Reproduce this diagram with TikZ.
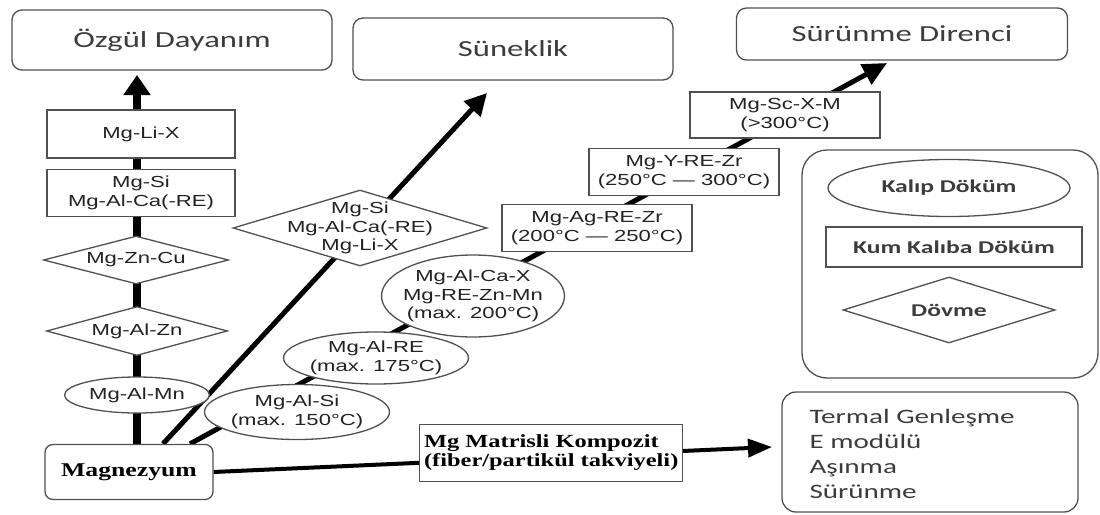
\documentclass[tikz,border=0pt]{standalone}
\usepackage{fontspec}
\setmainfont{Carlito}[FakeStretch=1.42]
\newfontfamily\alloyfont{Liberation Sans}[FakeStretch=1.38]
\newfontfamily\serfont{Liberation Serif}[FakeStretch=1.32]
\usetikzlibrary{shapes.geometric,arrows.meta}
\pgfdeclarelayer{bg}
\pgfsetlayers{bg,main}
\definecolor{bord}{HTML}{505050}
\definecolor{hdrtext}{HTML}{3C3C3C}
\definecolor{alloytext}{HTML}{222222}
\begin{document}
\begin{tikzpicture}[x=1pt,y=-1pt,
  box/.style={draw=bord, line width=1.3pt, fill=white, inner sep=0pt},
  hdr/.style={box, rounded corners=10pt, font=\fontsize{23}{27}\selectfont, text=hdrtext},
  abox/.style={box, font=\alloyfont\fontsize{16}{18.5}\selectfont, align=center, text=alloytext},
  atext/.style={font=\alloyfont\fontsize{16}{18.5}\selectfont, align=center, inner sep=0pt, text=alloytext},
  ptext/.style={font=\bfseries\fontsize{18}{21}\selectfont, text=hdrtext, inner sep=0pt},
  conn/.style={line width=5pt, black},
]
\useasboundingbox (0,0) rectangle (1100,514);

% headers
\node[hdr, minimum width=320pt, minimum height=60pt] (hoz) at (172,40) {Özgül Dayanım};
\node[hdr, minimum width=320pt, minimum height=62pt] (hsu) at (513,49) {Süneklik};
\node[hdr, minimum width=331pt, minimum height=52pt] (hsd) at (902,34) {Sürünme Direnci};

% left column
\node[abox, minimum width=188pt, minimum height=48pt] (lix) at (141,134) {Mg-Li-X};
\node[abox, minimum width=188pt, minimum height=47pt] (sica) at (141,193) {Mg-Si\\Mg-Al-Ca(-RE)};
\node[box, diamond, minimum width=185pt, minimum height=48pt] (zncu) at (136,260) {};
\node[atext] (zncut) at (zncu) {Mg-Zn-Cu};
\node[box, diamond, minimum width=181pt, minimum height=49pt] (alzn) at (137,331) {};
\node[atext] (alznt) at (alzn) {Mg-Al-Zn};
\node[box, ellipse, minimum width=145pt, minimum height=36pt] (almn) at (137,395) {};
\node[atext] (almnt) at (almn) {Mg-Al-Mn};

\node[box, rounded corners=8pt, minimum width=168pt, minimum height=55pt,
      font=\serfont\bfseries\fontsize{19.5}{22}\selectfont, text=black] (mag) at (129,472) {Magnezyum};

% ductility diamond
\node[box, diamond, minimum width=254pt, minimum height=76pt] (dsi) at (360,228) {};
\node[atext] (dsit) at (dsi) {Mg-Si\\Mg-Al-Ca(-RE)\\Mg-Li-X};

% creep chain
\node[box, ellipse, minimum width=185pt, minimum height=55pt] (alsi) at (297,412) {};
\node[atext] (alsit) at (alsi) {Mg-Al-Si\\(max. 150°C)};
\node[box, ellipse, minimum width=185pt, minimum height=52pt] (alre) at (376,358) {};
\node[atext] (alret) at (alre) {Mg-Al-RE\\(max. 175°C)};
\node[box, ellipse, minimum width=183pt, minimum height=82pt] (alca) at (473,296) {};
\node[atext] (alcat) at (alca) {Mg-Al-Ca-X\\Mg-RE-Zn-Mn\\(max. 200°C)};
\node[abox, minimum width=190pt, minimum height=47pt] (agre) at (597,228) {Mg-Ag-RE-Zr\\(200°C — 250°C)};
\node[abox, minimum width=190pt, minimum height=47pt] (yre) at (684,172) {Mg-Y-RE-Zr\\(250°C — 300°C)};
\node[abox, minimum width=190pt, minimum height=46pt] (scx) at (785,115) {Mg-Sc-X-M\\(>300°C)};

% composite
\node[box, minimum width=263pt, minimum height=57pt] (comp) at (551,453) {};
\node[font=\serfont\bfseries\fontsize{18.5}{19}\selectfont, align=left, anchor=west,
      inner sep=0pt, text=black] (compt) at ([xshift=5pt]comp.west)
      {Mg Matrisli Kompozit\\(fiber/partikül takviyeli)};

% process group
\node[box, rounded corners=25pt, minimum width=296pt, minimum height=228pt] (grp) at (950,264) {};
\node[box, ellipse, minimum width=242pt, minimum height=57pt] (kalip) at (949,188) {};
\node[ptext] (kalipt) at (kalip) {Kalıp Döküm};
\node[box, minimum width=256pt, minimum height=40pt] (kum) at (954,247) {};
\node[ptext] (kumt) at (kum) {Kum Kalıba Döküm};
\node[box, diamond, minimum width=212pt, minimum height=66pt] (dov) at (949,310) {};
\node[ptext] (dovt) at (dov) {Dövme};

% properties box
\node[box, rounded corners=14pt, minimum width=296pt, minimum height=120pt] (term) at (930,452) {};
\node[font=\fontsize{20.5}{25}\selectfont, text=hdrtext, align=left, anchor=west, inner sep=0pt]
      (termt) at ([xshift=28pt,yshift=-2pt]term.west)
      {Termal Genleşme\\E modülü\\Aşınma\\Sürünme};

% connectors
\begin{pgfonlayer}{bg}
\coordinate (v0) at ([xshift=8pt]mag.north);
\coordinate (v1) at (137,75);
\draw[line width=8pt, -{Triangle[length=20pt,width=26pt]}] (v0) -- (v1);
\coordinate (s0) at ([xshift=34pt]mag.north);
\coordinate (s1) at (487,93);
\draw[conn, -{Triangle[length=22pt,width=22pt]}] (s0) -- (s1);
\coordinate (r0) at ([xshift=61pt]mag.north);
\coordinate (r1) at (887,63);
\draw[conn, -{Triangle[length=24pt,width=22pt]}] (r0) -- (r1);
\coordinate (c1) at (772,447);
\draw[line width=4pt, -{Triangle[length=24pt,width=18pt]}] (mag.east) -- (c1);
\end{pgfonlayer}
\end{tikzpicture}
\end{document}
